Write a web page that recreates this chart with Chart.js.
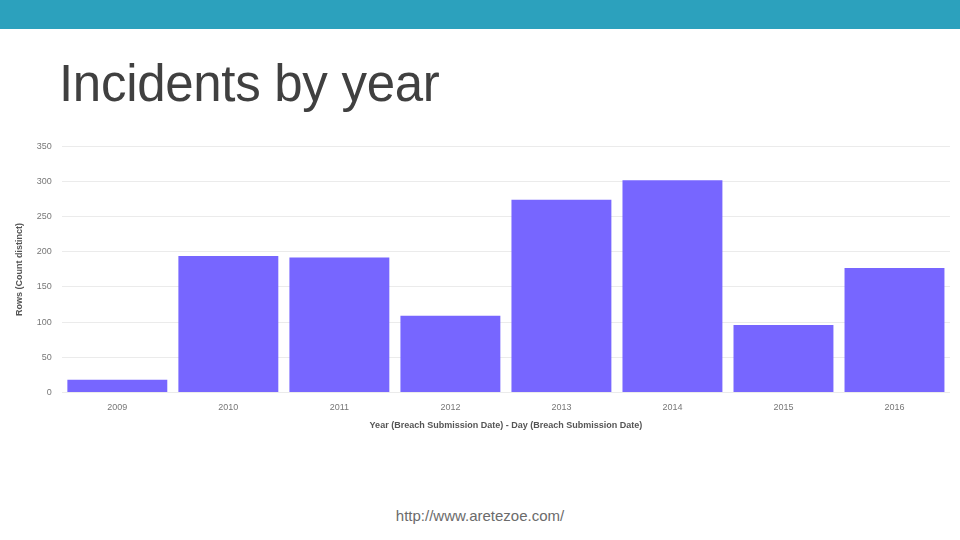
<!DOCTYPE html>
<html>
<head>
<meta charset="utf-8">
<script src="https://cdn.jsdelivr.net/npm/chart.js@4"></script>
<style>
  html, body { margin: 0; padding: 0; width: 960px; height: 540px; background: #fff; overflow: hidden; font-family: "Liberation Sans", Arial, sans-serif; }
  #topbar { position: absolute; left: 0; top: 0; width: 960px; height: 29px; background: #2ca1bd; }
  #title { position: absolute; left: 59px; top: 54px; font-size: 51px; color: #404040; letter-spacing: -0.3px; }
  #box { position: absolute; left: 10px; top: 131px; width: 940px; height: 304px; }
  #footer { position: absolute; left: 0; width: 960px; top: 507px; text-align: center; font-size: 15px; color: #6b6b6b; }
</style>
</head>
<body>
<div id="topbar"></div>
<div id="title">Incidents by year</div>
<div id="box"><canvas id="incidentsChart"></canvas></div>
<div id="footer">http://www.aretezoe.com/</div>
<script>
// Datos del gráfico
const years = ['2009', '2010', '2011', '2012', '2013', '2014', '2015', '2016'];
const incidents = [18, 194, 192, 109, 274, 302, 96, 177];
const yTicks = [0, 50, 100, 150, 200, 250, 300, 350];

document.addEventListener('DOMContentLoaded', () => {
    const ctx = document.getElementById('incidentsChart').getContext('2d');
    new Chart(ctx, {
        type: 'bar',
        data: {
            labels: years,
            datasets: [{
                label: 'Rows (Count distinct)',
                data: incidents,
                backgroundColor: '#7766ff',
                barPercentage: 0.9,
                categoryPercentage: 1.0
            }]
        },
        options: {
            responsive: true,
            maintainAspectRatio: false,
            animation: false,
            plugins: {
                legend: { display: false },
                tooltip: { enabled: false }
            },
            scales: {
                x: {
                    grid: { display: false, drawTicks: false },
                    border: { display: false },
                    ticks: { color: '#777', font: { size: 9, family: 'Liberation Sans' }, padding: 10 },
                    title: {
                        display: true,
                        text: 'Year (Breach Submission Date) - Day (Breach Submission Date)',
                        color: '#555',
                        font: { size: 9, weight: 'bold', family: 'Liberation Sans' },
                        padding: { top: -3 }
                    }
                },
                y: {
                    min: 0,
                    max: 350,
                    afterBuildTicks: axis => { axis.ticks = yTicks.map(v => ({ value: v })); },
                    grid: { color: '#ebebeb', drawTicks: false },
                    border: { display: false },
                    ticks: { color: '#777', font: { size: 9, family: 'Liberation Sans' }, padding: 10 },
                    title: {
                        display: true,
                        text: 'Rows (Count distinct)',
                        color: '#555',
                        font: { size: 9, weight: 'bold', family: 'Liberation Sans' },
                        padding: { bottom: 2 }
                    }
                }
            }
        }
    });
});
</script>
</body>
</html>
